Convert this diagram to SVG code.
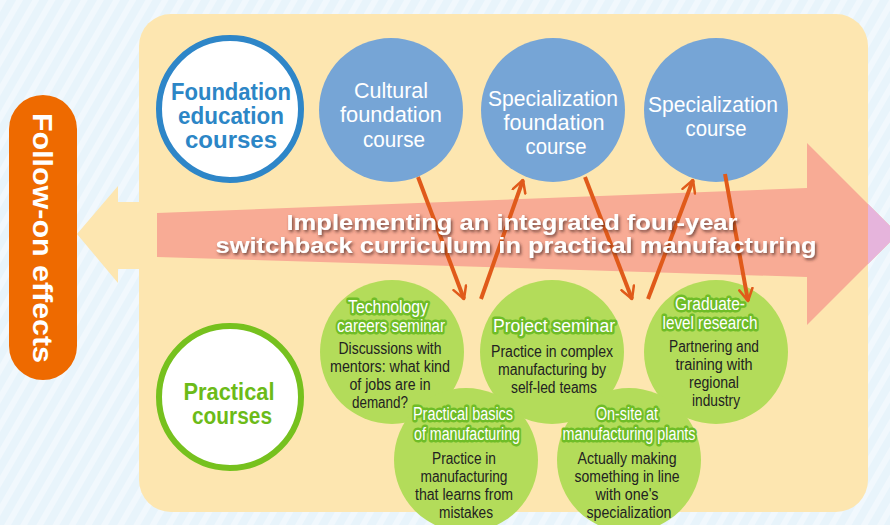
<svg xmlns="http://www.w3.org/2000/svg" width="890" height="525" viewBox="0 0 890 525">
<defs>
<pattern id="stripes" width="14" height="14" patternUnits="userSpaceOnUse" patternTransform="rotate(30)">
<rect width="14" height="14" fill="#e8f4fb"/>
<rect width="6" height="14" fill="#f1f8fd"/>
</pattern>
<marker id="chev" viewBox="0 0 12 12" refX="10" refY="6" markerWidth="16" markerHeight="16" markerUnits="userSpaceOnUse" orient="auto">
<path d="M1,1 L10,6 L1,11" fill="none" stroke="#e05a1a" stroke-width="1.9" stroke-linecap="round" stroke-linejoin="round"/>
</marker>
<filter id="shadow" x="-10%" y="-30%" width="120%" height="160%">
<feDropShadow dx="1.5" dy="2" stdDeviation="1.5" flood-color="#4a2a20" flood-opacity="0.75"/>
</filter>
</defs>
<style>
text{font-family:"Liberation Sans",Arial,sans-serif;text-anchor:middle}
.hb{font-weight:bold;fill:#2c86c6;font-size:23px}
.hg{font-weight:bold;fill:#6cbb18;font-size:23px}
.wc{fill:#ffffff;font-size:21.5px}
.tt{fill:#ffffff;font-size:18px;stroke:#6fbd27;stroke-width:5px;paint-order:stroke;stroke-linejoin:round}
.bd{fill:#222222;font-size:16px}
.bc{fill:#76a5d6}
.gc{fill:#b3dc5a}
.conn{stroke:#e05a1a;stroke-width:4;fill:none;marker-end:url(#chev)}
.big{fill:#ffffff;font-weight:bold;font-size:21.5px;filter:url(#shadow)}
</style>
<rect width="890" height="525" fill="url(#stripes)"/>
<g id="panel">
<rect x="139" y="14" width="729" height="498" rx="32" fill="#fde6b0"/>
<path d="M140,202 L118,202 L118,186 L77,234 L118,283 L118,269 L140,269 Z" fill="#fde6b0"/>
</g>
<g id="big-arrow">
<path d="M157,213 L807,188 L807,143 L898,234 L807,325 L807,277 L157,257 Z" fill="#f8ab95"/>
<path d="M868,204 L898,234 L868,264 Z" fill="#e6b4dc"/>
</g>
<g id="follow-on">
<rect x="9" y="95" width="68" height="285" rx="34" fill="#ee6a00"/>
<text transform="translate(43,238) rotate(90)" y="10" fill="#ffffff" font-weight="bold" font-size="28" textLength="250" lengthAdjust="spacingAndGlyphs">Follow-on effects</text>
</g>
<g id="foundation-education">
<circle cx="230" cy="109" r="71" fill="#ffffff" stroke="#2e86c8" stroke-width="6"/>
<text class="hb" x="231" y="100" textLength="120" lengthAdjust="spacingAndGlyphs">Foundation</text>
<text class="hb" x="231" y="124" textLength="106" lengthAdjust="spacingAndGlyphs">education</text>
<text class="hb" x="231" y="148" textLength="92" lengthAdjust="spacingAndGlyphs">courses</text>
</g>
<g id="practical-courses">
<circle cx="230" cy="397" r="71" fill="#ffffff" stroke="#76c11e" stroke-width="6"/>
<text class="hg" x="229" y="400" textLength="91" lengthAdjust="spacingAndGlyphs">Practical</text>
<text class="hg" x="232" y="424" textLength="80" lengthAdjust="spacingAndGlyphs">courses</text>
</g>
<g id="cultural-foundation">
<circle class="bc" cx="391" cy="110" r="72"/>
<text class="wc" x="391" y="98" textLength="74" lengthAdjust="spacingAndGlyphs">Cultural</text>
<text class="wc" x="391" y="122" textLength="102" lengthAdjust="spacingAndGlyphs">foundation</text>
<text class="wc" x="394" y="147" textLength="62" lengthAdjust="spacingAndGlyphs">course</text>
</g>
<g id="specialization-foundation">
<circle class="bc" cx="553" cy="110" r="72"/>
<text class="wc" x="553" y="106" textLength="130" lengthAdjust="spacingAndGlyphs">Specialization</text>
<text class="wc" x="554" y="130" textLength="101" lengthAdjust="spacingAndGlyphs">foundation</text>
<text class="wc" x="556" y="154" textLength="61" lengthAdjust="spacingAndGlyphs">course</text>
</g>
<g id="specialization-course">
<circle class="bc" cx="716" cy="110" r="72"/>
<text class="wc" x="713" y="112" textLength="130" lengthAdjust="spacingAndGlyphs">Specialization</text>
<text class="wc" x="716" y="136" textLength="61" lengthAdjust="spacingAndGlyphs">course</text>
</g>
<g id="green-shapes">
<circle class="gc" cx="392" cy="352" r="72"/>
<circle class="gc" cx="552" cy="352" r="72"/>
<circle class="gc" cx="716" cy="352" r="72"/>
<circle class="gc" cx="466" cy="460" r="72"/>
<circle class="gc" cx="629" cy="460" r="72"/>
</g>
<g id="technology-careers-seminar">
<text class="tt" x="388" y="313" textLength="80" lengthAdjust="spacingAndGlyphs">Technology</text>
<text class="tt" x="391" y="332" textLength="108" lengthAdjust="spacingAndGlyphs">careers seminar</text>
<text class="bd" x="390" y="354" textLength="103" lengthAdjust="spacingAndGlyphs">Discussions with</text>
<text class="bd" x="390" y="372" textLength="120" lengthAdjust="spacingAndGlyphs">mentors: what kind</text>
<text class="bd" x="390" y="390" textLength="81" lengthAdjust="spacingAndGlyphs">of jobs are in</text>
<text class="bd" x="380" y="408" textLength="56" lengthAdjust="spacingAndGlyphs">demand?</text>
</g>
<g id="project-seminar">
<text class="tt" x="554" y="332" textLength="122" lengthAdjust="spacingAndGlyphs">Project seminar</text>
<text class="bd" x="552" y="357" textLength="122" lengthAdjust="spacingAndGlyphs">Practice in complex</text>
<text class="bd" x="552" y="375" textLength="108" lengthAdjust="spacingAndGlyphs">manufacturing by</text>
<text class="bd" x="554" y="393" textLength="86" lengthAdjust="spacingAndGlyphs">self-led teams</text>
</g>
<g id="graduate-level-research">
<text class="tt" x="710" y="310" textLength="70" lengthAdjust="spacingAndGlyphs">Graduate-</text>
<text class="tt" x="710" y="329" textLength="95" lengthAdjust="spacingAndGlyphs">level research</text>
<text class="bd" x="714" y="352" textLength="90" lengthAdjust="spacingAndGlyphs">Partnering and</text>
<text class="bd" x="714" y="370" textLength="77" lengthAdjust="spacingAndGlyphs">training with</text>
<text class="bd" x="714" y="388" textLength="50" lengthAdjust="spacingAndGlyphs">regional</text>
<text class="bd" x="716" y="406" textLength="48" lengthAdjust="spacingAndGlyphs">industry</text>
</g>
<g id="practical-basics">
<text class="tt" x="463" y="420" textLength="100" lengthAdjust="spacingAndGlyphs">Practical basics</text>
<text class="tt" x="467" y="440" textLength="106" lengthAdjust="spacingAndGlyphs">of manufacturing</text>
<text class="bd" x="464" y="464" textLength="64" lengthAdjust="spacingAndGlyphs">Practice in</text>
<text class="bd" x="464" y="482" textLength="87" lengthAdjust="spacingAndGlyphs">manufacturing</text>
<text class="bd" x="464" y="500" textLength="98" lengthAdjust="spacingAndGlyphs">that learns from</text>
<text class="bd" x="466" y="518" textLength="54" lengthAdjust="spacingAndGlyphs">mistakes</text>
</g>
<g id="on-site">
<text class="tt" x="627" y="420" textLength="62" lengthAdjust="spacingAndGlyphs">On-site at</text>
<text class="tt" x="629" y="440" textLength="133" lengthAdjust="spacingAndGlyphs">manufacturing plants</text>
<text class="bd" x="627" y="464" textLength="99" lengthAdjust="spacingAndGlyphs">Actually making</text>
<text class="bd" x="627" y="482" textLength="105" lengthAdjust="spacingAndGlyphs">something in line</text>
<text class="bd" x="627" y="500" textLength="63" lengthAdjust="spacingAndGlyphs">with one's</text>
<text class="bd" x="629" y="518" textLength="85" lengthAdjust="spacingAndGlyphs">specialization</text>
</g>
<g id="connectors">
<line class="conn" x1="418" y1="177" x2="464" y2="299"/>
<line class="conn" x1="481" y1="299" x2="523" y2="180"/>
<line class="conn" x1="585" y1="177" x2="632" y2="299"/>
<line class="conn" x1="648" y1="299" x2="693" y2="180"/>
<line class="conn" x1="725" y1="174" x2="748" y2="301"/>
</g>
<g id="curriculum-label">
<text class="big" x="512" y="230" textLength="451" lengthAdjust="spacingAndGlyphs">Implementing an integrated four-year</text>
<text class="big" x="516" y="253" textLength="601" lengthAdjust="spacingAndGlyphs">switchback curriculum in practical manufacturing</text>
</g>
</svg>
